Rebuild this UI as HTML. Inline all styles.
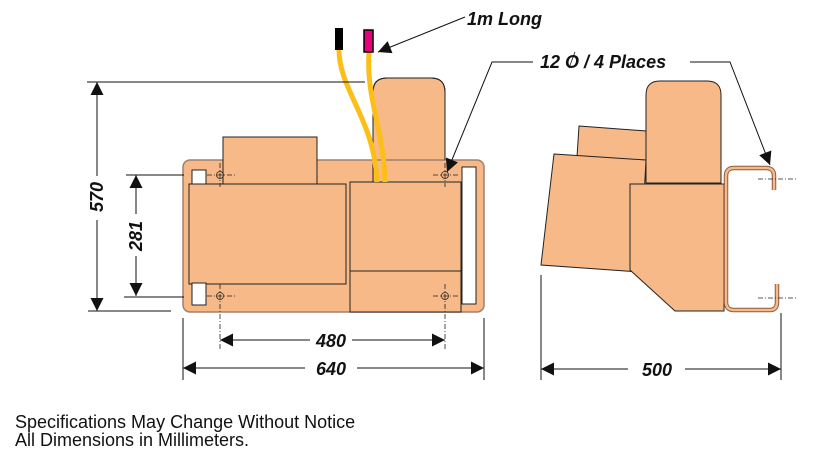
<!DOCTYPE html>
<html><head><meta charset="utf-8"><style>
html,body{margin:0;padding:0;background:#fff;width:815px;height:464px;overflow:hidden}
svg{display:block}
.d{font-family:"Liberation Sans",sans-serif;font-weight:bold;font-style:italic;font-size:18px;fill:#111}
</style></head><body>
<svg width="815" height="464" viewBox="0 0 815 464" xmlns="http://www.w3.org/2000/svg">
<defs>
<marker id="a" viewBox="0 0 10 10" refX="10" refY="5" markerWidth="17" markerHeight="13" markerUnits="userSpaceOnUse" orient="auto-start-reverse"><path d="M0,0 L10,5 L0,10 z" fill="#111"/></marker>
</defs>
<g stroke="#222" stroke-width="1" fill="#f7b987">
<path d="M373,182 V92 Q373,78 387,78 H431 Q445,78 445,92 V182 Z"/>
<rect x="183" y="160" width="301" height="152" rx="7" stroke="#a08070" stroke-width="1.5"/>
<path d="M373,182 V92 Q373,78 387,78 H431 Q445,78 445,92 V160" fill="none"/>
<rect x="223" y="137" width="94" height="47"/>
<rect x="189" y="184" width="157" height="100"/>
<rect x="350" y="182" width="111" height="89"/>
<rect x="350" y="271" width="111" height="41"/>
<rect x="462" y="167" width="14" height="137" fill="#fff"/>
<rect x="192" y="170" width="14" height="14" fill="#fff"/>
<rect x="192" y="283" width="14" height="22" fill="#fff"/>
</g>
<g fill="none" stroke="#222" stroke-width="0.8">
<circle cx="220" cy="175" r="3.5"/><circle cx="445" cy="175" r="3.5"/>
<circle cx="220" cy="296" r="3.5"/><circle cx="445" cy="296" r="3.5"/>
<path d="M207,175 H235 M433,175 H458 M207,296 H235 M433,296 H458" stroke-dasharray="5,2,1,2"/>
<path d="M220,163 V187 M445,163 V187 M220,284 V350 M445,284 V350" stroke-dasharray="5,2,1,2"/>
</g>
<path d="M339,50 C339,90 375,120 377,182" fill="none" stroke="#fbbf17" stroke-width="5"/>
<path d="M369,52 C366,100 384,130 385,182" fill="none" stroke="#fbbf17" stroke-width="5"/>
<rect x="335" y="28" width="8" height="22" fill="#000"/>
<rect x="364" y="30" width="9" height="22" fill="#e5007e" stroke="#000" stroke-width="1.5"/>
<g stroke="#111" stroke-width="1" fill="none">
<line x1="87" y1="82" x2="365" y2="82"/>
<line x1="88" y1="311" x2="171" y2="311"/>
<line x1="126" y1="175" x2="184" y2="175"/>
<line x1="124" y1="297" x2="184" y2="297"/>
<line x1="97" y1="82" x2="97" y2="176" marker-start="url(#a)"/>
<line x1="97" y1="220" x2="97" y2="311" marker-end="url(#a)"/>
<line x1="136" y1="175" x2="136" y2="214" marker-start="url(#a)"/>
<line x1="136" y1="256" x2="136" y2="296" marker-end="url(#a)"/>
<line x1="183" y1="318" x2="183" y2="380"/>
<line x1="484" y1="318" x2="484" y2="380"/>
<line x1="220" y1="340" x2="310" y2="340" marker-start="url(#a)"/>
<line x1="352" y1="340" x2="445" y2="340" marker-end="url(#a)"/>
<line x1="183" y1="368" x2="305" y2="368" marker-start="url(#a)"/>
<line x1="357" y1="368" x2="484" y2="368" marker-end="url(#a)"/>
<line x1="465" y1="17" x2="378" y2="52" marker-end="url(#a)"/>
<polyline points="533,62 492,62 447,172" marker-end="url(#a)"/>
<polyline points="690,62 730,62 770,165" marker-end="url(#a)"/>
<line x1="575" y1="52" x2="569" y2="68" stroke-width="0.8"/>
<line x1="541" y1="275" x2="541" y2="380"/>
<line x1="781" y1="313" x2="781" y2="380"/>
<line x1="541" y1="369" x2="628" y2="369" marker-start="url(#a)"/>
<line x1="685" y1="369" x2="781" y2="369" marker-end="url(#a)"/>
</g>
<text class="d" transform="translate(103,197) rotate(-90)" text-anchor="middle">570</text>
<text class="d" transform="translate(142,236) rotate(-90)" text-anchor="middle">281</text>
<text class="d" x="331" y="347" text-anchor="middle">480</text>
<text class="d" x="331" y="375" text-anchor="middle">640</text>
<text class="d" x="657" y="376" text-anchor="middle">500</text>
<text class="d" x="467" y="25">1m Long</text>
<text class="d" x="540" y="68">12 O / 4 Places</text>
<g stroke="#222" stroke-width="1" fill="#f7b987">
<path d="M646,183 V95 Q646,81 660,81 H707 Q721,81 721,95 V183 Z"/>
<polygon points="579,126 646,131 646,161 577,157"/>
<polygon points="554,154 646,160 640,272 541,265"/>
<polygon points="630,184 724,184 724,311 675,311 630,270"/>
</g>
<path d="M774,190 V176 Q774,168 766,168 H734 Q726,168 726,176 V302 Q726,310 734,310 H770 Q777,310 777,302 V284" fill="none" stroke="#8a5a40" stroke-width="4.5"/>
<path d="M774,190 V176 Q774,168 766,168 H734 Q726,168 726,176 V302 Q726,310 734,310 H770 Q777,310 777,302 V284" fill="none" stroke="#f7b987" stroke-width="2.5"/>
<g stroke="#222" stroke-width="0.8" stroke-dasharray="5,2,1,2">
<line x1="758" y1="179" x2="797" y2="179"/>
<line x1="758" y1="298" x2="797" y2="298"/>
</g>
<text x="15" y="428" font-family="Liberation Sans, sans-serif" font-size="18" fill="#111">Specifications May Change Without Notice</text>
<text x="15" y="446" font-family="Liberation Sans, sans-serif" font-size="18" fill="#111">All Dimensions in Millimeters.</text>
</svg>
</body></html>
